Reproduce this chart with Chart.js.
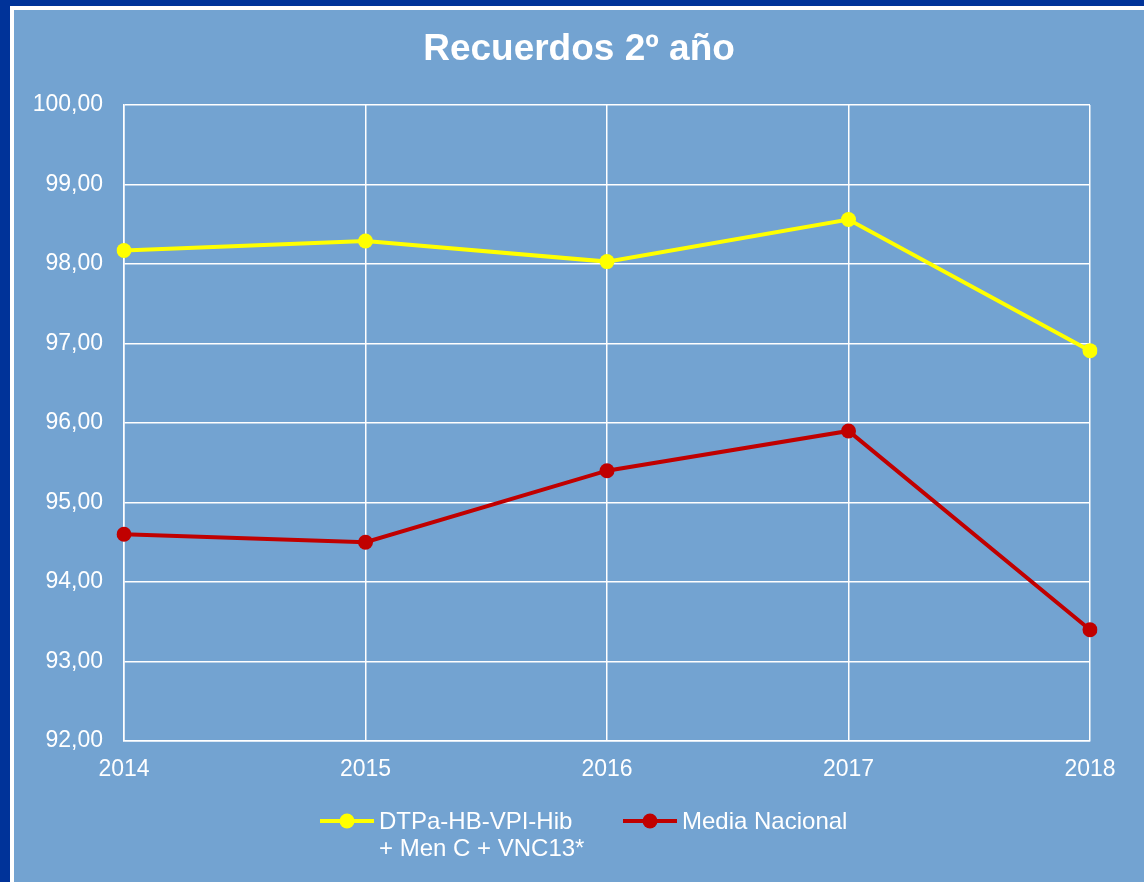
<!DOCTYPE html>
<html>
<head>
<meta charset="utf-8">
<script src="https://cdn.jsdelivr.net/npm/chart.js@4.4.0/dist/chart.umd.min.js"></script>
<style>
  html, body { margin: 0; padding: 0; background: #003399; overflow: hidden; }
  #frame {
    position: absolute; left: 10px; top: 6px; width: 1200px; height: 950px;
    background: #ffffff;
  }
  #box {
    position: absolute; left: 4px; top: 4px; width: 1130px; height: 872px;
    background: #73a3d1;
  }
</style>
</head>
<body>
<div id="frame"><div id="box"><canvas id="myChart" width="1130" height="872"></canvas></div></div>
<script>
'use strict';

var titleText = 'Recuerdos 2º año';
var years = ['2014', '2015', '2016', '2017', '2018'];
var vacunaLabel = ['DTPa-HB-VPI-Hib', '+ Men C + VNC13*'];
var vacunaValues = [98.17, 98.29, 98.03, 98.56, 96.91];
var mediaLabel = 'Media Nacional';
var mediaValues = [94.60, 94.50, 95.40, 95.90, 93.40];

var fontFamily = '"Liberation Sans", Arial, sans-serif';

// title centred on the whole canvas, not on the padded box
var titlePlugin = {
    id: 'customTitle',
    afterDraw: function (chart) {
        var c = chart.ctx;
        c.save();
        c.fillStyle = '#ffffff';
        c.font = 'bold 37px ' + fontFamily;
        c.textAlign = 'center';
        c.textBaseline = 'middle';
        c.fillText(titleText, chart.width / 2, 40);
        c.restore();
    }
};

// legend drawn by hand so the first label can break in two lines
var legendPlugin = {
    id: 'customLegend',
    afterDraw: function (chart) {
        var c = chart.ctx;
        var items = [
            { ds: chart.data.datasets[0], x: 306, lines: vacunaLabel },
            { ds: chart.data.datasets[1], x: 609, lines: [mediaLabel] }
        ];
        var y = 811;
        c.save();
        items.forEach(function (it) {
            c.strokeStyle = it.ds.borderColor;
            c.lineWidth = 4;
            c.beginPath();
            c.moveTo(it.x, y);
            c.lineTo(it.x + 54, y);
            c.stroke();
            c.fillStyle = it.ds.pointBackgroundColor;
            c.beginPath();
            c.arc(it.x + 27, y, 7.5, 0, Math.PI * 2);
            c.fill();
            c.fillStyle = '#ffffff';
            c.font = '24px ' + fontFamily;
            c.textBaseline = 'middle';
            it.lines.forEach(function (t, i) {
                c.fillText(t, it.x + 59, y + 1 + i * 27);
            });
        });
        c.restore();
    }
};

var ctx = document.getElementById('myChart').getContext('2d');
var chart = new Chart(ctx, {
    type: 'line',
    data: {
        labels: years,
        datasets: [{
            label: vacunaLabel.join(' '),
            data: vacunaValues,
            borderColor: '#ffff00',
            backgroundColor: '#ffff00',
            pointBackgroundColor: '#ffff00',
            pointBorderWidth: 0,
            pointRadius: 7.5,
            borderWidth: 4,
            tension: 0
        }, {
            label: mediaLabel,
            data: mediaValues,
            borderColor: '#c00000',
            backgroundColor: '#c00000',
            pointBackgroundColor: '#c00000',
            pointBorderWidth: 0,
            pointRadius: 7.5,
            borderWidth: 4,
            tension: 0
        }]
    },
    options: {
        responsive: false,
        animation: false,
        layout: { padding: { left: 0, right: 54, top: 95, bottom: 0 } },
        plugins: {
            legend: { display: false },
            tooltip: { enabled: false },
            title: { display: false }
        },
        scales: {
            x: {
                offset: false,
                grid: { color: '#ffffff', lineWidth: 1.5, drawTicks: false },
                border: { color: '#ffffff', width: 1.5 },
                ticks: {
                    color: '#ffffff', padding: 15, maxRotation: 0,
                    font: { family: fontFamily, size: 23 }
                },
                afterFit: function (s) { s.height = 141; }
            },
            y: {
                min: 92,
                max: 100,
                grid: { color: '#ffffff', lineWidth: 1.5, drawTicks: false },
                border: { color: '#ffffff', width: 1.5 },
                ticks: {
                    stepSize: 1, color: '#ffffff', padding: 21,
                    font: { family: fontFamily, size: 23 },
                    callback: function (v) { return v.toFixed(2).replace('.', ','); }
                },
                afterFit: function (s) { s.width = 110; }
            }
        }
    },
    plugins: [titlePlugin, legendPlugin]
});
</script>
</body>
</html>
